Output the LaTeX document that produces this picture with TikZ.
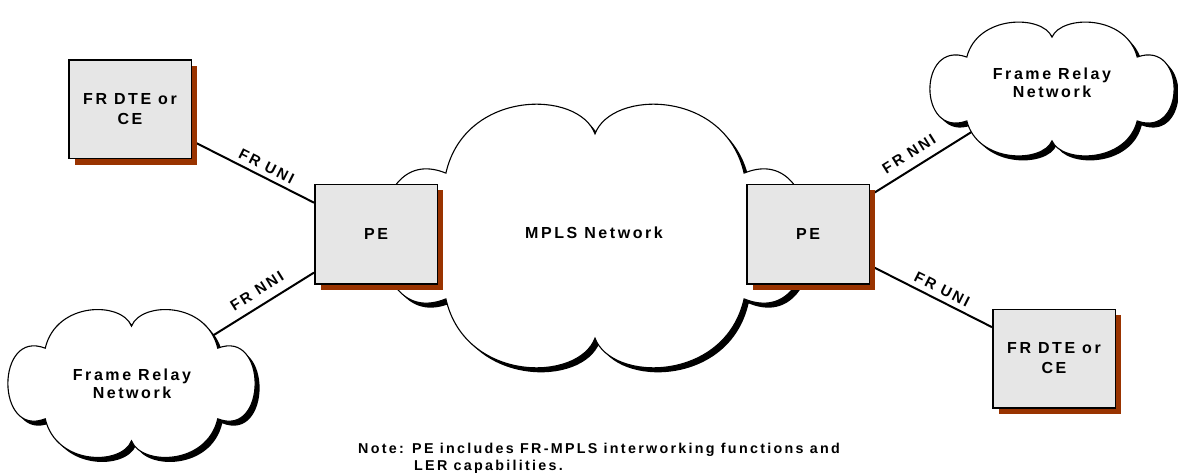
\documentclass[tikz,border=0pt]{standalone}
\usepackage{fontspec}
\newfontfamily\diagfont{Liberation Sans Bold}[LetterSpace=16]
\usetikzlibrary{positioning,shadows,backgrounds}
\definecolor{frbrown}{RGB}{153,51,0}
\definecolor{boxgray}{RGB}{230,230,230}
% unit cloud: two lobes on top, two below, one at each side
\newcommand\cloudoutline{(-0.71,0.48) .. controls (-0.62,1.12) and (-0.08,1.12) .. (0,0.78)
  .. controls (0.08,1.12) and (0.62,1.12) .. (0.71,0.48)
  .. controls (1.12,0.75) and (1.12,-0.75) .. (0.71,-0.48)
  .. controls (0.62,-1.12) and (0.08,-1.12) .. (0,-0.78)
  .. controls (-0.08,-1.12) and (-0.62,-1.12) .. (-0.71,-0.48)
  .. controls (-1.12,-0.75) and (-1.12,0.75) .. (-0.71,0.48) -- cycle}
% #1,#2 centre, #3,#4 half width and height
\newcommand\netcloud[4]{%
  \fill[black, shift={(#1+4.5,#2+4.5)}, xscale=#3, yscale=-#4] \cloudoutline;
  \filldraw[fill=white, draw=black, line width=1.1pt, shift={(#1,#2)}, xscale=#3, yscale=-#4] \cloudoutline;}
\tikzset{
  font=\diagfont\fontsize{16}{18}\selectfont,
  dtebox/.style ={draw, line width=1.5pt, fill=boxgray, minimum width=122.5pt, minimum height=98.5pt, align=center,
                  font=\diagfont\fontsize{16}{20}\selectfont,
                  drop shadow={shadow xshift=6pt, shadow yshift=-6pt, fill=frbrown, opacity=1}},
  pebox/.style  ={dtebox, minimum height=99.5pt},
  cloudtxt/.style={align=center},
  conn/.style   ={line width=2pt},
  unilbl/.style ={sloped, above=1.5pt, font=\diagfont\fontsize{15}{16}\selectfont},
  nnilbl/.style ={sloped, above=5pt, font=\diagfont\fontsize{15}{16}\selectfont},
  note/.style   ={anchor=north west, inner sep=0pt, align=left, font=\diagfont\fontsize{14.3}{17}\selectfont},
}
\begin{document}
\begin{tikzpicture}[x=1pt, y=-1pt]
  \useasboundingbox (0,0) rectangle (1178,476);
  % clouds
  \netcloud{595}{236}{210}{131}
  \netcloud{131.5}{383.5}{121.5}{73.5}
  \netcloud{1052}{89}{120}{66.5}
  \node[cloudtxt] (mpls) at (594,233) {MPLS Network};
  \node[cloudtxt] (frnetl) at (132,383.5) {Frame Relay\\Network};
  \node[cloudtxt] (frnetr) at (1052,83) {Frame Relay\\Network};
  \coordinate (frlport) at (213,335.5);
  \coordinate (frrport) at (971.5,132);
  % boxes
  \node[dtebox] (dtel) at (130,109.5) {FR DTE or\\CE};
  \node[pebox] (pel) at (376,234) {PE};
  \node[pebox] (per) at (808,234) {PE};
  \node[dtebox] (dter) at (1054,358.5) {FR DTE or\\CE};
  % links, kept under the shadows
  \begin{scope}[on background layer]
    \draw[conn] (dtel) -- node[unilbl, pos=0.57] {FR UNI} (pel);
    \draw[conn] (frlport) -- node[nnilbl, pos=0.51] {FR NNI} (pel);
    \draw[conn] (per) -- node[nnilbl, pos=0.46] {FR NNI} (frrport);
    \draw[conn] (per) -- node[unilbl, pos=0.55] {FR UNI} (dter);
  \end{scope}
  \node[note] (note) at (358,443) {Note: PE includes FR-MPLS interworking functions and\\\hspace*{56pt}LER capabilities.};
\end{tikzpicture}
\end{document}
